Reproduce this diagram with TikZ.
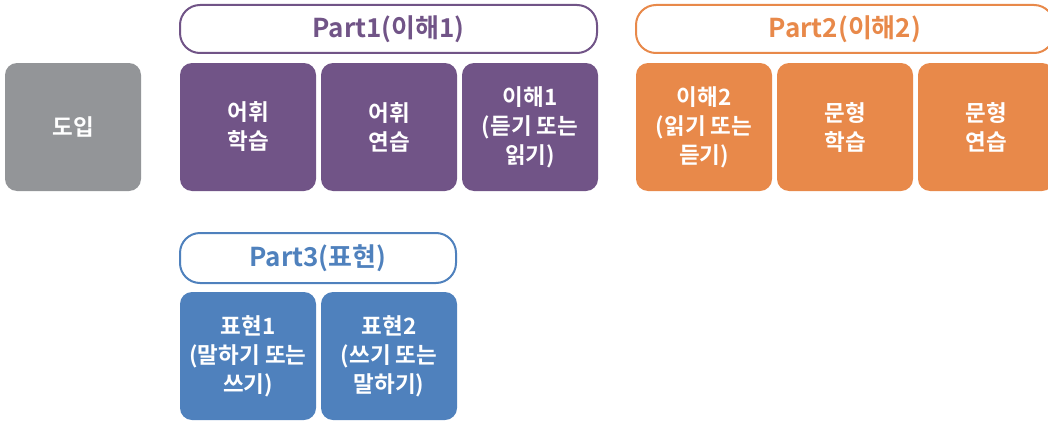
\documentclass[tikz,border=0pt]{standalone}
\usepackage{fontspec}
\setmainfont{Noto Sans CJK KR}[BoldFont={Noto Sans CJK KR Bold}]
\usetikzlibrary{positioning}
\definecolor{introgray}{HTML}{939598}
\definecolor{partpurple}{HTML}{715487}
\definecolor{partorange}{HTML}{E8894A}
\definecolor{partblue}{HTML}{4F81BD}
\tikzset{
  tile/.style={
    rectangle, rounded corners=12pt, fill=#1, text=white,
    minimum width=136pt, minimum height=128pt, inner sep=0pt,
    align=center, font=\bfseries\fontsize{22.5}{29}\selectfont
  },
  parthead/.style={
    rectangle, rounded corners=20pt, draw=#1, line width=2pt, fill=white,
    text=#1, minimum height=48pt, inner sep=0pt,
    font=\bfseries\fontsize{26}{30}\selectfont
  }
}

\begin{document}
\begin{tikzpicture}[x=1pt, y=-1pt]
	\useasboundingbox (0,0) rectangle (1048,420);
	%
	\node[tile=introgray] (intro) at (73,127) {도입};
	%
	\node[parthead=partpurple, minimum width=417pt] (part1) at (388.5,29) {Part1(이해1)};
	\node[tile=partpurple] (vocstudy) at (248,127) {어휘\\학습};
	\node[tile=partpurple] (vocdrill) at (389,127) {어휘\\연습};
	\node[tile=partpurple] (compone) at (530,127) {이해1\\(듣기 또는\\읽기)};
	%
	\node[parthead=partorange, minimum width=418pt] (part2) at (845,29) {Part2(이해2)};
	\node[tile=partorange] (comptwo) at (704,127) {이해2\\(읽기 또는\\듣기)};
	\node[tile=partorange] (patstudy) at (845,127) {문형\\학습};
	\node[tile=partorange] (patdrill) at (986,127) {문형\\연습};
	%
	\node[parthead=partblue, minimum width=276pt, minimum height=50pt] (part3) at (318,258) {Part3(표현)};
	\node[tile=partblue] (exprone) at (248,356) {표현1\\(말하기 또는\\쓰기)};
	\node[tile=partblue] (exprtwo) at (389,356) {표현2\\(쓰기 또는\\말하기)};
\end{tikzpicture}
\end{document}
